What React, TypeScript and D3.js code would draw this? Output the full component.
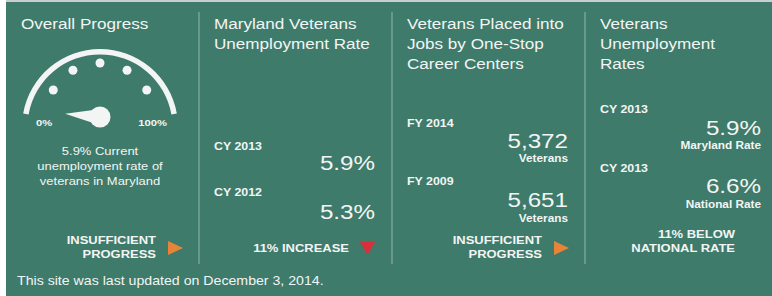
import React from "react";
import * as d3 from "d3";

// dashboard values
const panelTitles = [
  ["Overall Progress"],
  ["Maryland Veterans", "Unemployment Rate"],
  ["Veterans Placed into", "Jobs by One-Stop", "Career Centers"],
  ["Veterans", "Unemployment", "Rates"],
];
const periodLabels = [[], ["CY 2013", "CY 2012"], ["FY 2014", "FY 2009"], ["CY 2013", "CY 2013"]];
const valueLabels = [[], ["5.9%", "5.3%"], ["5,372", "5,651"], ["5.9%", "6.6%"]];
const unitLabels = [[], [], ["Veterans", "Veterans"], ["Maryland Rate", "National Rate"]];
const statusLabels = [
  ["INSUFFICIENT", "PROGRESS"],
  ["11% INCREASE"],
  ["INSUFFICIENT", "PROGRESS"],
  ["11% BELOW", "NATIONAL RATE"],
];
const statusMarks = ["right", "down", "right", "none"];
const gaugeCaption = ["5.9% Current", "unemployment rate of", "veterans in Maryland"];
const gaugeEnds = ["0%", "100%"];
const gaugeDots = [16.7, 33.3, 50, 66.7, 83.3];
const gaugeValue = 3;
const footer = "This site was last updated on December 3, 2014.";

// layout (baselines) per panel
const layout = [
  null,
  { period: [150, 196], value: [170, 219], unit: [0, 0], status: [252] },
  { period: [127, 185], value: [148, 207], unit: [162, 222], status: [244, 258] },
  { period: [113, 172], value: [135, 193], unit: [149, 208], status: [238, 252] },
];

const W = 772;
const H = 296;
const BG = "#3e7b6b";
const FG = "#f3f5f4";
const SX = 1.18; // the source is stretched horizontally
const FONT = "'Liberation Sans', Arial, sans-serif";

const panelX = d3.scaleLinear().domain([0, 4]).range([6, 778]);

function T({ x, y, size, weight = "normal", anchor = "start", children }: any) {
  return (
    <text
      transform={`translate(${x},${y}) scale(${SX},1)`}
      fontSize={size}
      fontWeight={weight}
      textAnchor={anchor}
      fill={FG}
      fontFamily={FONT}
    >
      {children}
    </text>
  );
}

function Gauge() {
  const cx = 100, cy = 117; // needle pivot
  const arcCy = 127;
  const needleAngle = d3.scaleLinear().domain([0, 100]).range([-90, 90]);
  const arcAngle = d3.scaleLinear().domain([0, 100]).range([-80, 80]);
  const rad = (d: number) => (d * Math.PI) / 180;
  const arc = d3.arc()({
    innerRadius: 72.5,
    outerRadius: 78,
    startAngle: rad(arcAngle(0)),
    endAngle: rad(arcAngle(100)),
  } as any) as string;

  const a = rad(needleAngle(gaugeValue));
  const tip: [number, number] = [cx + 35 * Math.sin(a), cy - 35 * Math.cos(a)];
  const p1: [number, number] = [cx + 8 * Math.cos(a), cy + 8 * Math.sin(a)];
  const p2: [number, number] = [cx - 8 * Math.cos(a), cy - 8 * Math.sin(a)];
  const needle = d3.line()([tip, p1, p2]) + "Z";

  return (
    <g>
      <path d={arc} transform={`translate(${cx},${arcCy})`} fill={FG} />
      {gaugeDots.map((d, i) => {
        const t = rad(needleAngle(d));
        return <circle key={i} cx={cx + 54 * Math.sin(t)} cy={cy - 54 * Math.cos(t)} r={4.5} fill={FG} />;
      })}
      <path d={needle} fill={FG} />
      <circle cx={cx} cy={cy} r={10.5} fill={FG} />
      <T x={36} y={126} size={9.5} weight="bold">{gaugeEnds[0]}</T>
      <T x={167} y={126} size={9.5} weight="bold" anchor="end">{gaugeEnds[1]}</T>
      {gaugeCaption.map((s, i) => (
        <T key={i} x={100} y={155 + i * 15} size={11} anchor="middle">{s}</T>
      ))}
    </g>
  );
}

function Marker({ kind, x0 }: { kind: string; x0: number }) {
  if (kind === "right") {
    const pts: [number, number][] = [[x0 + 162, 241], [x0 + 177, 248], [x0 + 162, 255]];
    return <path d={d3.line()(pts) + "Z"} fill="#e8843a" />;
  }
  if (kind === "down") {
    const pts: [number, number][] = [[x0 + 161, 242], [x0 + 176, 242], [x0 + 168.5, 255]];
    return <path d={d3.line()(pts) + "Z"} fill="#d8303a" />;
  }
  return null;
}

export default function App() {
  return (
    <svg width={W} height={H} style={{ position: "absolute", left: 0, top: 0, display: "block" }}>
      <rect x={0} y={0} width={W} height={H} fill="#ffffff" />
      <rect x={6} y={0} width={W - 6} height={2} fill="#c9cfcd" />
      <rect x={6} y={2} width={W - 6} height={H - 2} fill={BG} />
      {[1, 2, 3].map((i) => (
        <line key={i} x1={panelX(i)} x2={panelX(i)} y1={12} y2={264} stroke="#86ada2" strokeWidth={1.2} />
      ))}
      {panelTitles.map((lines, i) => {
        const x0 = panelX(i);
        const lay = layout[i];
        return (
          <g key={i}>
            {lines.map((s, j) => (
              <T key={j} x={x0 + 15} y={29 + j * 20} size={14.5}>{s}</T>
            ))}
            {lay &&
              periodLabels[i].map((s, j) => (
                <T key={"p" + j} x={x0 + 15} y={lay.period[j]} size={10.5} weight="bold">{s}</T>
              ))}
            {lay &&
              valueLabels[i].map((s, j) => (
                <T key={"v" + j} x={x0 + 176} y={lay.value[j]} size={20.5} anchor="end">{s}</T>
              ))}
            {lay &&
              unitLabels[i].map((s, j) => (
                <T key={"u" + j} x={x0 + 176} y={lay.unit[j]} size={10} weight="bold" anchor="end">{s}</T>
              ))}
            {statusLabels[i].map((s, j) => (
              <T
                key={"s" + j}
                x={x0 + 150}
                y={lay ? lay.status[j] : 244 + j * 14}
                size={11}
                weight="bold"
                anchor="end"
              >
                {s}
              </T>
            ))}
            <Marker kind={statusMarks[i]} x0={x0} />
          </g>
        );
      })}
      <Gauge />
      <T x={17} y={285} size={12}>{footer}</T>
    </svg>
  );
}
